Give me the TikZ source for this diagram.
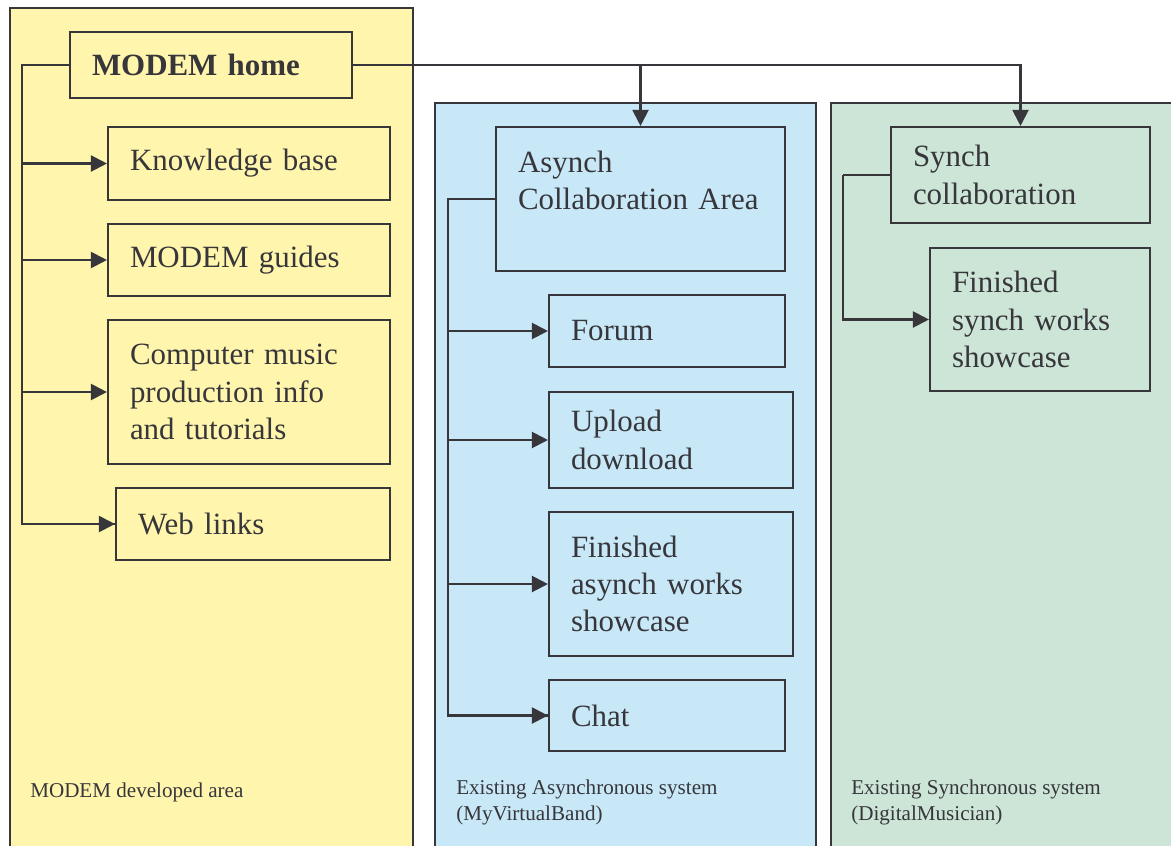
\documentclass[tikz,border=0pt]{standalone}
\usepackage{fontspec}
\setmainfont{Liberation Serif}
\usepackage{tikz}
\usetikzlibrary{positioning,arrows.meta}
\definecolor{LineGray}{HTML}{36363B}
\definecolor{PaleYellow}{HTML}{FFF5AC}
\definecolor{PaleBlue}{HTML}{C8E8F8}
\definecolor{PaleGreen}{HTML}{CCE5D6}
\tikzset{
  panel/.style={draw=LineGray,line width=1.5pt},
  itembox/.style={draw=LineGray,line width=1.5pt,align=left,
    inner xsep=0.55cm,inner ysep=0pt,anchor=center,
    font=\fontsize{22}{26.5}\selectfont\color{LineGray}},
  boxsize/.style 2 args={minimum width=#1cm,minimum height=#2cm,text width=#1cm-1.1cm},
  paneltext/.style={anchor=west,align=left,inner sep=0pt,
    font=\fontsize{15}{18.5}\selectfont\color{LineGray}},
  link/.style={draw=LineGray,line width=1.5pt},
  arr/.style={link,-{Triangle[length=0.4cm,width=0.4cm]}},
}
\begin{document}
\begin{tikzpicture}
  \useasboundingbox (0,0) rectangle (29.275,-21.125);
  \clip (0,0) rectangle (29.275,-21.125);
  % panels
  \fill[white] (0,0) rectangle (29.275,-21.125);
  \draw[panel,fill=PaleYellow] (0.25,-0.2) rectangle (10.325,-21.6);
  \draw[panel,fill=PaleBlue] (10.875,-2.575) rectangle (20.4,-21.6);
  \draw[panel,fill=PaleGreen] (20.775,-2.575) rectangle (29.9,-21.6);
  \node[paneltext] (lbl1) at (0.75,-19.8) {MODEM developed area};
  \node[paneltext] (lbl2) at (11.4,-20.05) {Existing Asynchronous system\\(MyVirtualBand)};
  \node[paneltext] (lbl3) at (21.275,-20.05) {Existing Synchronous system\\(DigitalMusician)};
  % developed area
  \node[itembox,fill=PaleYellow,boxsize={7.05}{1.65}] (home) at (5.275,-1.625) {\textbf{MODEM home}};
  \node[itembox,fill=PaleYellow,boxsize={7.05}{1.825}] (kb) at (6.225,-4.0875) {Knowledge base};
  \node[itembox,fill=PaleYellow,boxsize={7.05}{1.8}] (guides) at (6.225,-6.5) {MODEM guides};
  \node[itembox,fill=PaleYellow,boxsize={7.05}{3.6}] (cmp) at (6.225,-9.8) {Computer music\\production info\\and tutorials};
  \node[itembox,fill=PaleYellow,boxsize={6.85}{1.8}] (web) at (6.325,-13.1) {Web links};
  % asynchronous system
  \node[itembox,fill=PaleBlue,boxsize={7.225}{3.6}] (asynch) at (16.0125,-4.975) {Asynch\\Collaboration Area\\\mbox{}};
  \node[itembox,fill=PaleBlue,boxsize={5.9}{1.8}] (forum) at (16.675,-8.275) {Forum};
  \node[itembox,fill=PaleBlue,boxsize={6.1}{2.4}] (upload) at (16.775,-11.0) {Upload\\download};
  \node[itembox,fill=PaleBlue,boxsize={6.1}{3.6}] (fasynch) at (16.775,-14.6) {Finished\\asynch works\\showcase};
  \node[itembox,fill=PaleBlue,boxsize={5.9}{1.775}] (chat) at (16.675,-17.8875) {Chat};
  % synchronous system
  \node[itembox,fill=PaleGreen,boxsize={6.475}{2.4}] (synch) at (25.5125,-4.375) {Synch\\collaboration};
  \node[itembox,fill=PaleGreen,boxsize={5.5}{3.575}] (fsynch) at (26.0,-7.9875) {Finished\\synch works\\showcase};
  % connectors
  \coordinate (ltrunk) at (0.55,-1.625);
  \coordinate (atrunk) at (11.2,-4.975);
  \coordinate (strunk) at (21.075,-4.375);
  \draw[link] (home.west) -- (ltrunk) |- (web.west);
  \draw[arr] (ltrunk |- kb.west) -- (kb.west);
  \draw[arr] (ltrunk |- guides.west) -- (guides.west);
  \draw[arr] (ltrunk |- cmp.west) -- (cmp.west);
  \draw[arr] (ltrunk |- web.west) -- (web.west);
  \draw[arr] (home.east) -| (synch.north);
  \draw[arr] (home.east -| asynch.north) -- (asynch.north);
  \draw[link] (asynch.west) -- (atrunk) |- (chat.west);
  \draw[arr] (atrunk |- forum.west) -- (forum.west);
  \draw[arr] (atrunk |- upload.west) -- (upload.west);
  \draw[arr] (atrunk |- fasynch.west) -- (fasynch.west);
  \draw[arr] (atrunk |- chat.west) -- (chat.west);
  \draw[link] (synch.west) -- (strunk);
  \draw[arr] (strunk) |- (fsynch.west);
\end{tikzpicture}
\end{document}
